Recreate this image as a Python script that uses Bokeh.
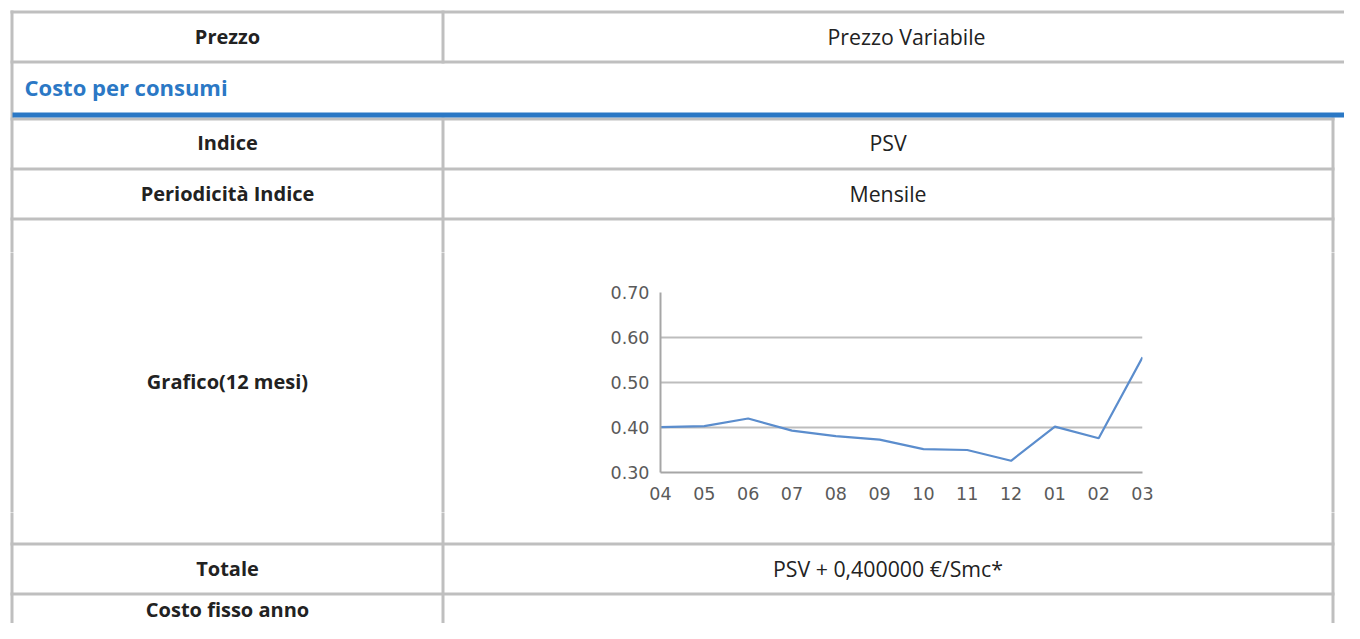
from bokeh.plotting import figure
from bokeh.models import Range1d, FixedTicker, NumeralTickFormatter
from bokeh.layouts import column, row
from bokeh.embed import file_html
from bokeh.resources import INLINE
from bokeh.core.properties import value

# ---- chart data ----
months = ["04", "05", "06", "07", "08", "09", "10", "11", "12", "01", "02", "03"]
psv = [0.401, 0.403, 0.420, 0.393, 0.381, 0.373, 0.352, 0.350, 0.326, 0.402, 0.376, 0.556]
y_ticks = [0.30, 0.40, 0.50, 0.60, 0.70]

# ---- table texts ----
label_col = ["Prezzo", "Indice", "Periodicità Indice", "Grafico(12 mesi)", "Totale", "Costo fisso anno"]
value_col = ["Prezzo Variabile", "PSV", "Mensile", "", "PSV + 0,400000 €/Smc*", ""]
section_title = "Costo per consumi"

FONT = "Open Sans"
BORDER = "#bfbfbf"
BLUE = "#2b78c5"
TEXT = "#222222"

# row text centres (px)
row_y = [36, 142, 192.5, 380.5, 567.5, 609]
value_x = [906, 887.5, 887.5, 887.5, 887.5, 887.5]
label_x = 227
title_pos = (24, 86.5)

W, H = 1344, 623
MID_TOP, MID_BOT = 252, 512
CH_L, CH_R = 552, 1192


def inside(x, y, box):
    x0, x1, y0, y1 = box
    return x0 <= x < x1 and y0 <= y < y1


def draw_table(p, box):
    gray = [
        (10, 1360, 10, 13),
        (10, 13, 10, 660),
        (10, 1360, 60, 63),
        (441, 444, 10, 63),
        (10, 1334, 117, 120),
        (10, 1334, 167, 170),
        (10, 1334, 217, 220),
        (10, 1334, 542, 545),
        (10, 1334, 592, 595),
        (441, 444, 117, 660),
        (1331, 1334, 117, 660),
    ]
    p.quad(left=[g[0] for g in gray], right=[g[1] for g in gray],
           top=[g[2] for g in gray], bottom=[g[3] for g in gray],
           fill_color=BORDER, line_color=None)
    p.quad(left=[12], right=[1360], top=[112], bottom=[117], fill_color=BLUE, line_color=None)

    labs = [(label_x, y, t) for y, t in zip(row_y, label_col) if inside(label_x, y, box)]
    if labs:
        p.text(x=[a[0] for a in labs], y=[a[1] for a in labs], text=[a[2] for a in labs],
               text_font=value(FONT), text_font_style="bold", text_font_size="20px",
               text_color=TEXT, text_align="center", text_baseline="middle")
    vals = [(x, y, t) for x, y, t in zip(value_x, row_y, value_col) if t and inside(x, y, box)]
    if vals:
        p.text(x=[a[0] for a in vals], y=[a[1] for a in vals], text=[a[2] for a in vals],
               text_font=value(FONT), text_font_size="21.3px",
               text_color=TEXT, text_align="center", text_baseline="middle")
    if inside(title_pos[0], title_pos[1], box):
        p.text(x=[title_pos[0]], y=[title_pos[1]], text=[section_title],
               text_font=value(FONT), text_font_style="bold", text_font_size="22px",
               text_color=BLUE, text_align="left", text_baseline="middle")


def panel(x0, x1, y0, y1):
    p = figure(width=x1 - x0, height=y1 - y0,
               x_range=Range1d(x0, x1), y_range=Range1d(y1, y0),
               output_backend="svg", toolbar_location=None, tools="",
               x_axis_location=None, y_axis_location=None, min_border=0,
               outline_line_color=None, outline_line_width=0,
               background_fill_color="white", border_fill_color="white",
               frame_align=False)
    p.grid.visible = False
    draw_table(p, (x0, x1, y0, y1))
    return p


top = panel(0, W, 0, MID_TOP)
left = panel(0, CH_L, MID_TOP, MID_BOT)
right = panel(CH_R, W, MID_TOP, MID_BOT)
bottom = panel(0, W, MID_BOT, H)

# ---- the chart ----
xs = list(range(len(months)))
c = figure(width=CH_R - CH_L, height=MID_BOT - MID_TOP,
           x_range=Range1d(xs[0], xs[-1]), y_range=Range1d(y_ticks[0], y_ticks[-1]),
           output_backend="svg", toolbar_location=None, tools="",
           min_border_left=660 - CH_L, min_border_right=CH_R - 1142,
           min_border_top=292 - MID_TOP, min_border_bottom=MID_BOT - 472,
           outline_line_color=None, background_fill_color="white",
           border_fill_color="white", frame_align=False)
c.line(x=xs, y=psv, line_color="#5b8dcd", line_width=2.2)
c.xgrid.visible = False
c.ygrid.grid_line_color = "#bdbdbd"
c.ygrid.grid_line_width = 2
c.ygrid.ticker = FixedTicker(ticks=y_ticks)
c.xaxis.ticker = FixedTicker(ticks=xs)
c.xaxis.major_label_overrides = {i: m for i, m in enumerate(months)}
c.yaxis.ticker = FixedTicker(ticks=y_ticks)
c.yaxis.formatter = NumeralTickFormatter(format="0.00")
for ax in (c.xaxis, c.yaxis):
    ax.axis_line_color = "#a6a6a6"
    ax.axis_line_width = 2
    ax.major_tick_line_color = None
    ax.minor_tick_line_color = None
    ax.major_tick_out = 0
    ax.major_tick_in = 0
    ax.major_label_text_font = "DejaVu Sans"
    ax.major_label_text_font_size = "17.5px"
    ax.major_label_text_color = "#5a5a5a"
c.yaxis.major_label_standoff = 11
c.xaxis.major_label_standoff = 14

layout = column(top, row(left, c, right), bottom)

open("out.html", "w").write(file_html(layout, INLINE))
